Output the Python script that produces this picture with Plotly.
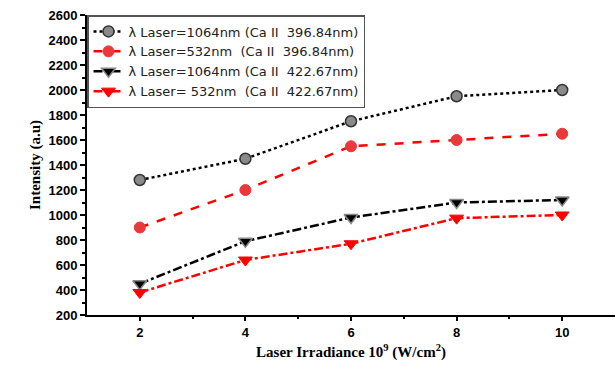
import plotly.graph_objects as go

x_vals = [2, 4, 6, 8, 10]
ca396_1064 = [1280, 1450, 1750, 1950, 2000]
ca396_532 = [900, 1200, 1550, 1600, 1650]
ca422_1064 = [450, 790, 980, 1100, 1120]
ca422_532 = [380, 640, 770, 975, 1000]

names = [
    "λ Laser=1064nm (Ca II\u00a0\u00a0396.84nm)",
    "λ Laser=532nm\u00a0 (Ca II\u00a0\u00a0396.84nm)",
    "λ Laser=1064nm (Ca II\u00a0\u00a0422.67nm)",
    "λ Laser= 532nm\u00a0 (Ca II\u00a0\u00a0422.67nm)",
]

fig = go.Figure()
fig.add_trace(go.Scatter(x=x_vals, y=ca396_1064, name=names[0], mode="lines+markers",
                         line=dict(color="black", dash="dot", width=2.5),
                         marker=dict(symbol="circle", size=11, color="#8a8a8a",
                                     line=dict(color="#333333", width=1.5))))
fig.add_trace(go.Scatter(x=x_vals, y=ca396_532, name=names[1], mode="lines+markers",
                         line=dict(color="red", dash="dash", width=2.5),
                         marker=dict(symbol="circle", size=11, color="#e83a3a",
                                     line=dict(color="#e83a3a", width=1))))
fig.add_trace(go.Scatter(x=x_vals, y=ca422_1064, name=names[2], mode="lines+markers",
                         line=dict(color="black", dash="dashdot", width=2.5),
                         marker=dict(symbol="triangle-down", size=12, color="black",
                                     line=dict(color="#888888", width=1.5))))
fig.add_trace(go.Scatter(x=x_vals, y=ca422_532, name=names[3], mode="lines+markers",
                         line=dict(color="red", dash="dashdot", width=2.5),
                         marker=dict(symbol="triangle-down", size=12, color="red",
                                     line=dict(color="red", width=1))))

tick_font = dict(family="Liberation Sans", size=13, color="black", weight="bold")
fig.update_layout(
    width=615, height=368,
    margin=dict(l=87, r=0, t=15, b=53),
    plot_bgcolor="white", paper_bgcolor="white",
    showlegend=True,
    legend=dict(x=0, y=1, xanchor="left", yanchor="top",
                bordercolor="#555555", borderwidth=1.5, bgcolor="white",
                font=dict(family="DejaVu Sans", size=13, color="#222222"),
                tracegroupgap=0),
    xaxis=dict(range=[1, 11], tickvals=[2, 4, 6, 8, 10], showline=True,
               linecolor="black", linewidth=2, ticks="outside", ticklen=4,
               tickwidth=2, tickcolor="black", tickfont=tick_font,
               showgrid=False, zeroline=False,
               minor=dict(tickvals=[3, 5, 7, 9], ticks="outside", ticklen=2,
                          tickwidth=2, tickcolor="black"),
               title=dict(text="Laser Irradiance 10<sup>9</sup> (W/cm<sup>2</sup>)",
                          font=dict(family="Liberation Serif", size=15,
                                    color="black", weight="bold"),
                          standoff=8)),
    yaxis=dict(range=[200, 2600], dtick=200, showline=True,
               linecolor="black", linewidth=2, ticks="outside", ticklen=5,
               tickwidth=2, tickcolor="black", tickfont=tick_font,
               showgrid=False, zeroline=False,
               minor=dict(dtick=100, ticks="outside", ticklen=3,
                          tickwidth=2, tickcolor="black"),
               title=dict(text="Intensity (a.u)",
                          font=dict(family="Liberation Serif", size=15,
                                    color="black", weight="bold"),
                          standoff=4)),
)
fig.write_html("out.html")
